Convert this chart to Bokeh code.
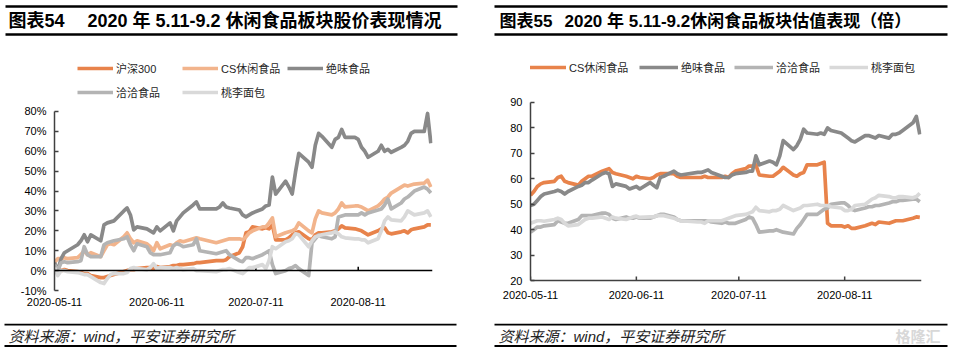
import pandas as pd
from bokeh.plotting import figure
from bokeh.layouts import row, column
from bokeh.models import (Range1d, FixedTicker, PrintfTickFormatter, DatetimeTickFormatter,
                          Span, Legend, LegendItem)
from bokeh.core.properties import value
from bokeh.embed import file_html
from bokeh.resources import INLINE

FONT = "Liberation Sans, Noto Sans CJK SC"

# ---------------- data ----------------
dates = (
    ["2020-05-%02d" % d for d in [11, 12, 13, 14, 15, 18, 19, 20, 21, 22, 25, 26, 27, 28, 29]] +
    ["2020-06-%02d" % d for d in [1, 2, 3, 4, 5, 8, 9, 10, 11, 12, 15, 16, 17, 18, 19, 22, 23, 24, 29, 30]] +
    ["2020-07-%02d" % d for d in [1, 2, 3, 6, 7, 8, 9, 10, 13, 14, 15, 16, 17, 20, 21, 22, 23, 24, 27, 28, 29, 30, 31]] +
    ["2020-08-%02d" % d for d in [3, 4, 5, 6, 7, 10, 11, 12, 13, 14, 17, 18, 19, 20, 21, 24, 25, 26, 27, 28, 31]] +
    ["2020-09-01", "2020-09-02"]
)

# Chart 54: price performance (%)
hs300 = [0, 0.5, 0, 0.5, 0, -0.5, -1, -1.5, -1.5, -2.5, -3.5, -3.5, -3, -2.5, -2,
         -0.5, 0, 0.5, 0.5, 1, 1.5, 1.5, 1, 2, 1.5, 2, 2.5, 2.5, 3, 3, 3.5, 4, 4, 5, 5,
         5, 5.5, 7, 9, 12, 19, 19.5, 22, 21, 21.5, 21, 23, 15.5, 15.5, 16.5, 18, 19, 19.5, 16, 15.5, 18, 19, 19,
         19.5, 20, 21, 22.5, 21.5, 21, 20.5, 20, 19, 18, 20, 21, 21.5, 19, 18.5, 19.5, 20, 19, 20.5, 21, 22,
         23, 23]
cs_price = [4, 6, 6, 6.5, 6, 6.5, 8, 10, 8, 9, 7, 10, 13, 13.5, 13,
            17, 19, 16, 14, 15, 13.5, 12, 10, 14, 11, 13, 12.5, 14, 15, 14.5, 16, 16.5, 16, 14, 14.5,
            15, 15.5, 16, 16, 15.5, 17, 19, 20, 22, 22, 24, 26.5, 17, 19, 19.5, 20, 21, 24, 20, 19, 26, 30, 29,
            28, 29, 31, 34, 32, 32.5, 32.5, 32, 31, 30, 32.5, 34, 36, 37, 39, 42, 43, 42.5, 43, 43.5, 44,
            45.5, 42]
jw_price = [4, 0, 6, 9, 10, 13, 15, 18, 14.5, 18, 15, 23, 24, 24.5, 25,
            30, 31.5, 28, 20.5, 22, 21, 20, 19, 22, 20, 24, 20, 25, 27, 29, 33, 34.5, 31, 31, 32,
            34, 32, 31.5, 30.5, 28, 27, 28, 29, 31, 32.5, 33, 47, 38.5, 45, 42, 38.5, 49.5, 59, 54.5, 52, 63, 69, 67.5,
            62, 66, 67, 71, 67, 67, 66, 62, 60, 57, 60, 63, 60, 61, 59.5, 62, 63, 65, 69, 70, 70,
            79, 64]
qq_price = [3, 0, 4, 4.5, 4, 4.5, 5, 12, 8, 7, 7, 13, 14, 14.5, 15,
            16, 17, 13, 10, 13.5, 12, 9, 8, 8, 8, 9, 12.5, 13.5, 13, 12, 13, 16, 10, 8.5, 9,
            9.5, 10, 8, 5, 4.5, 6.5, 6.5, 6, 8, 9, 10, 3, -1.5, 0, 1, 1.5, 2.5, 1, -2.5, 14, 16, 18, 17,
            16, 17, 27, 27.5, 28, 28, 28, 29, 28, 29, 30.5, 31, 33, 36, 31, 34, 36, 37, 38.5, 40, 42,
            41, 39]
tl_price = [1.5, -2.5, 0, 0, -0.5, -1, -1.5, -2, -2, -3, -6, -6.5, -4, -2, -1.5,
            -1.5, -1, 1, 1.5, 1, 0.5, 1.5, 3.5, 1, 1.5, 1.5, 1, 1.5, 1, 0.5, 1, 0, 0, -0.5, 0,
            0.5, 0.5, 1, -1, -1.5, 0, 1.5, 1.5, 3, 1, 5, 12, 11, 14.5, 15, 16, 18.5, 18, 12, 15, 17, 17.5, 18,
            19, 19.5, 18.5, 17, 16.5, 16, 16, 15.5, 15.5, 14, 16, 20, 25, 27, 25.5, 25, 27, 30, 29, 28, 29,
            30, 27]

# Chart 55: valuation (x)
cs_val = [53.5, 55, 57, 58, 58.5, 59, 60.5, 61, 59, 58.5, 57.5, 59, 60, 61, 61,
          63, 63.5, 64, 62.5, 62, 61, 60.5, 60, 61, 60.5, 60, 60.5, 61.5, 62, 62, 62, 61, 60.5, 60.5, 60.5,
          61, 60.5, 60.5, 60.5, 61, 60.5, 62, 63, 64, 65, 65, 65.5, 61.5, 61, 61, 62, 63, 64.5, 61.5, 61, 62, 62.5, 65.5,
          65.5, 66, 66.5, 42.5, 41.5, 41.5, 41, 41.5, 40.5, 40.5, 41.5, 42, 42.5, 42, 43, 42.5, 43, 43.5, 43.5, 43.5, 44.5,
          45, 44.8]
jw_val = [49.5, 50, 51.5, 53, 54, 55, 55.5, 55, 54, 55, 57, 57.5, 58.5, 58.5, 59.5,
          62, 62.5, 62, 57, 58, 57, 56, 56.5, 57, 56, 58.5, 57.5, 56.5, 60.5, 61, 63, 62, 61.5, 62.5, 62.5,
          63, 63.5, 62.5, 61, 60.5, 60.5, 61.5, 62, 62.5, 63, 63, 69, 65.5, 67, 66.5, 65.5, 69, 75, 71.5, 73, 75.5, 79.5, 78,
          77.5, 78, 77.5, 80, 79, 78, 77, 76, 75, 74.5, 77, 77, 76.5, 76, 77, 76, 77.5, 77.5, 78, 79, 82,
          84.5, 77.5]
qq_val = [39, 40, 41, 41, 41.5, 42, 43.5, 43, 42.5, 42.5, 44, 45.5, 45.5, 45.5, 45.5,
          46.5, 46.5, 46, 44.5, 44, 45, 44.5, 44.5, 45, 44.5, 44.5, 45, 45.5, 46, 46, 45, 44, 43.5, 43.5, 43.5,
          43.5, 43.5, 43, 42.5, 43, 42.5, 42.5, 42.5, 44, 45, 44.5, 42, 39, 39.5, 39.5, 40, 39.5, 39, 38.3, 40.5, 42, 44, 46,
          46, 47, 48, 48.5, 50, 50.5, 50.5, 49.5, 48, 47.5, 48.5, 49, 49, 49.5, 49.5, 50.5, 51, 51, 51.5, 51.5, 52,
          52, 51]
tl_val = [42.5, 43, 43.5, 43.5, 43.3, 44, 44.5, 44, 42.5, 41.5, 42, 43, 44, 44.5, 44.5,
          45, 44.5, 44, 45, 44.5, 44, 44.5, 45, 45.3, 44.8, 45, 45, 45.5, 45.5, 45.5, 44.5, 44, 43.5, 43, 43,
          42.5, 43.5, 43.5, 43.5, 44, 44.5, 45, 45.5, 46, 46.5, 47, 48.8, 47.5, 47, 47.5, 47.5, 48, 49.5, 47.5, 48, 48.5, 49.5, 49.5,
          50, 49.5, 49.5, 49.5, 49, 48.5, 47.5, 47.5, 48, 49.5, 50, 51, 52, 52.5, 53.5, 53, 52.5, 52.5, 53, 53, 52.5,
          53, 54.3]

x_tick_labels = ["2020-05-11", "2020-06-11", "2020-07-11", "2020-08-11"]
y_ticks_price = [-10, 0, 10, 20, 30, 40, 50, 60, 70, 80]
y_ticks_val = [20, 30, 40, 50, 60, 70, 80, 90]

for s in [hs300, cs_price, jw_price, qq_price, tl_price, cs_val, jw_val, qq_val, tl_val]:
    assert len(s) == len(dates), len(s)

# ---------------- styles ----------------
C_HS = "#E8834B"
C_CSL = "#F2B48C"
C_JW = "#898989"
C_QQ = "#B4B4B4"
C_TL = "#D9D9D9"
LW = 3.7
AX = "#404040"

xd = pd.to_datetime(dates)
tick_dt = pd.to_datetime(x_tick_labels)
tick_ms = [int(t.value // 10**6) for t in tick_dt]
x_start = pd.Timestamp("2020-05-11")


def strip(p):
    p.xgrid.visible = False
    p.ygrid.visible = False
    p.outline_line_color = None
    p.background_fill_color = "white"
    p.border_fill_color = "white"


def deco_fig(h):
    f = figure(width=954, height=h, x_range=Range1d(0, 954), y_range=Range1d(h, 0),
               output_backend="svg", toolbar_location=None, min_border=0,
               min_border_left=0, min_border_right=0, min_border_top=0, min_border_bottom=0,
               x_axis_location=None, y_axis_location=None)
    strip(f)
    return f


# header (both charts)
hdr = deco_fig(40)
hdr.segment(x0=[5, 5, 494, 494], x1=[457, 457, 947, 947], y0=[6, 34, 6, 34], y1=[6, 34, 6, 34],
            line_color="black", line_width=2.5)
hdr.text(x=[8, 87], y=[20.5] * 2,
         text=["图表54", "2020 年 5.11-9.2 休闲食品板块股价表现情况"],
         text_font=value(FONT), text_font_style="bold", text_font_size="18px",
         text_baseline="middle", text_color="black")
hdr.text(x=[499, 564], y=[20.5] * 2,
         text=["图表55", "2020 年 5.11-9.2休闲食品板块估值表现（倍）"],
         text_font=value(FONT), text_font_style="bold", text_font_size="17px",
         text_baseline="middle", text_color="black")

# footer (both charts)
ftr = deco_fig(31)
ftr.segment(x0=[4, 4, 494, 494], x1=[456, 456, 947, 947], y0=[1, 22.5, 1, 22.5], y1=[1, 22.5, 1, 22.5],
            line_color="black", line_width=2.2)
ftr.text(x=[8, 498], y=[12.5, 12.5], text=["资料来源：wind，平安证券研究所"] * 2, text_font=value(FONT),
         text_font_style="italic", text_font_size="15px", text_baseline="middle", text_color="#222222")
ftr.text(x=[895], y=[13], text=["格隆汇"], text_font=value(FONT), text_font_style="bold",
         text_font_size="15px", text_baseline="middle", text_color="#D8D8D8")

# both chart frames span fig y 15..250 (page y 55..290)
FR_TOP, FR_BOT = 15, 250


def main_fig(y_lo, y_hi, px_per_unit, px_lo, px_hi, yticks, yfmt, bl, br):
    # px_lo / px_hi: fig-y pixel of y_lo / y_hi ; extend range to full frame
    ystart = y_lo - (FR_BOT - px_lo) / px_per_unit
    yend = y_hi + (px_hi - FR_TOP) / px_per_unit
    p = figure(width=477, height=283, x_axis_type="datetime",
               x_range=Range1d(x_start, x_start + pd.Timedelta(days=114.5)),
               y_range=Range1d(ystart, yend), output_backend="svg", toolbar_location=None,
               min_border_left=bl, min_border_right=br, min_border_top=FR_TOP,
               min_border_bottom=283 - FR_BOT)
    strip(p)
    p.yaxis.bounds = (y_lo, y_hi)
    p.yaxis.ticker = FixedTicker(ticks=yticks)
    p.yaxis.formatter = PrintfTickFormatter(format=yfmt)
    p.yaxis.major_tick_in = 4
    p.yaxis.major_tick_out = 0
    p.yaxis.minor_tick_line_color = None
    p.yaxis.axis_line_color = AX
    p.yaxis.axis_line_width = 1.5
    p.yaxis.major_tick_line_color = AX
    p.yaxis.major_tick_line_width = 1.5
    p.yaxis.major_label_text_font = FONT
    p.yaxis.major_label_text_font_size = "11px"
    p.yaxis.major_label_text_color = "black"
    p.yaxis.major_label_standoff = 8
    p.xaxis.ticker = FixedTicker(ticks=tick_ms)
    fmt = "%Y-%m-%d"
    p.xaxis.formatter = DatetimeTickFormatter(days=fmt, months=fmt, years=fmt, hours=fmt,
                                              minutes=fmt, seconds=fmt, milliseconds=fmt,
                                              microseconds=fmt, minsec=fmt, hourmin=fmt)
    p.xaxis.minor_tick_line_color = None
    p.xaxis.axis_line_color = None
    p.xaxis.major_tick_line_color = None
    p.xaxis.major_tick_in = 0
    p.xaxis.major_tick_out = 0
    p.xaxis.major_label_text_font = FONT
    p.xaxis.major_label_text_font_size = "11px"
    p.xaxis.major_label_text_color = "black"
    return p


def base_line(p, y0, tick_h, color):
    p.add_layout(Span(location=y0, dimension="width", line_color=color, line_width=1.5))
    p.segment(x0=tick_dt, x1=tick_dt, y0=[y0] * 4, y1=[y0 + tick_h] * 4, line_color=color, line_width=1.5)


def add_leg(p, r, label, vx, vy, gw):
    leg = Legend(items=[LegendItem(label=label, renderers=[r])], location=(vx, vy),
                 orientation="horizontal", glyph_width=gw, glyph_height=14, label_height=14,
                 label_width=10, label_standoff=3, padding=0, margin=0, spacing=0,
                 border_line_color=None, background_fill_alpha=0,
                 label_text_font=FONT, label_text_font_size="11px", label_text_color="#262626")
    p.add_layout(leg)


# ---------------- left chart ----------------
pL = main_fig(-10, 80, 1.989, 250, 71, y_ticks_price, "%d%%", 54, 45)
pL.xaxis.major_label_standoff = 7
base_line(pL, 0, 2, "black")

rl = []
for ys, c in [(hs300, C_HS), (cs_price, C_CSL), (jw_price, C_JW), (qq_price, C_QQ), (tl_price, C_TL)]:
    rl.append(pL.line(xd, ys, line_color=c, line_width=LW, line_join="round"))
add_leg(pL, rl[0], "沪深300", 23, 214, 36)
add_leg(pL, rl[1], "CS休闲食品", 128, 214, 36)
add_leg(pL, rl[2], "绝味食品", 233, 214, 36)
add_leg(pL, rl[3], "洽洽食品", 23, 190, 36)
add_leg(pL, rl[4], "桃李面包", 128, 190, 36)

# ---------------- right chart ----------------
pR = main_fig(20, 90, 2.543, 240, 62, y_ticks_val, "%d", 53, 33)
pR.xaxis.major_label_standoff = 0
base_line(pR, 20, 1.6, AX)

rr = []
for ys, c in [(cs_val, C_HS), (jw_val, C_JW), (qq_val, C_QQ), (tl_val, C_TL)]:
    rr.append(pR.line(xd, ys, line_color=c, line_width=LW, line_join="round"))
add_leg(pR, rr[0], "CS休闲食品", -3, 215, 39)
add_leg(pR, rr[1], "绝味食品", 109, 215, 39)
add_leg(pR, rr[2], "洽洽食品", 204, 215, 39)
add_leg(pR, rr[3], "桃李面包", 299, 215, 39)

layout = column(hdr, row(pL, pR, spacing=0), ftr, spacing=0)

open("out.html", "w").write(file_html(layout, INLINE))
